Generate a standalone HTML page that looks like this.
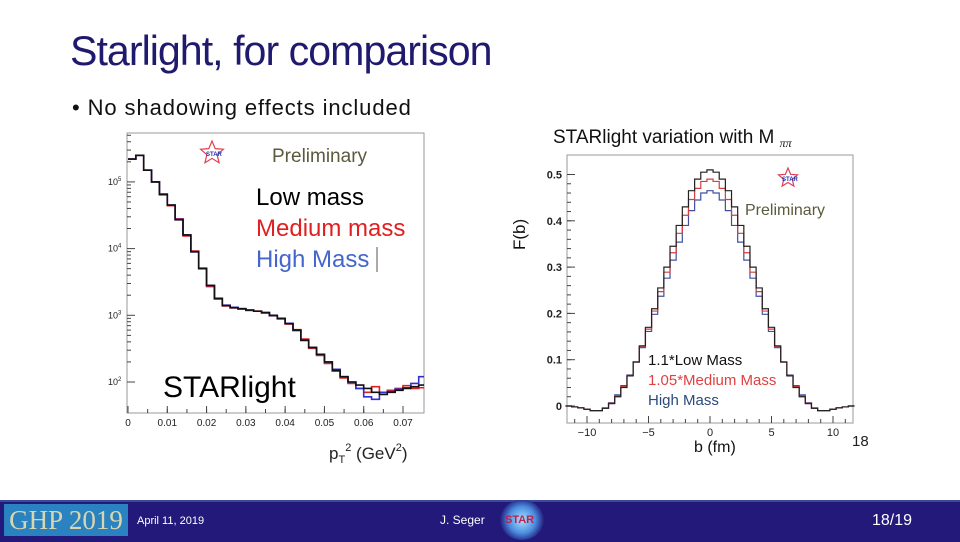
<!DOCTYPE html>
<html><head><meta charset="utf-8">
<style>
body{margin:0;width:960px;height:540px;overflow:hidden;background:#fff;font-family:"Liberation Sans",sans-serif;position:relative}
.t{position:absolute;white-space:nowrap}
</style></head><body>
<div class="t" style="left:70px;top:27px;font-family:'Liberation Sans',sans-serif;font-size:42px;color:#1f1a6e;letter-spacing:-1px;transform-origin:0 0;transform:scaleX(0.98)">Starlight, for comparison</div>
<div class="t" style="left:72px;top:95px;font-size:22px;letter-spacing:0.9px;color:#111">• No shadowing effects included</div>
<svg id="c" width="960" height="540" style="position:absolute;left:0;top:0"></svg>
<div style="position:absolute;left:0;top:500px;width:960px;height:40px;background:#22197a;border-top:2px solid #3a4a9a"></div>
<div class="t" style="left:4px;top:504px;width:124px;height:32px;background:#2a82c0;font-family:'Liberation Serif',serif;font-size:27px;color:#d8d6b0;line-height:32px;text-align:center">GHP 2019</div>
<div class="t" style="left:137px;top:515px;font-size:11px;color:#fff">April 11, 2019</div>
<div class="t" style="left:440px;top:513px;font-size:12px;color:#fff">J. Seger</div>
<div style="position:absolute;left:500px;top:500px;width:44px;height:40px;border-radius:50%;background:radial-gradient(circle,#aee0ff 0,#4a8ee0 45%,#22197a 75%)"></div>
<div class="t" style="left:505px;top:514px;font-size:11px;font-weight:bold;color:#c0204a">STAR</div>
<div class="t" style="left:872px;top:512px;font-size:16px;color:#fff">18/19</div>
<script>
const NS='http://www.w3.org/2000/svg';const svg=document.getElementById('c');
function el(t,a,txt){const e=document.createElementNS(NS,t);for(const k in a)e.setAttribute(k,a[k]);if(txt!==undefined)e.textContent=txt;svg.appendChild(e);return e;}
// ---- left chart data ----
const ptBins=[0,0.002,0.004,0.006,0.008,0.010,0.012,0.014,0.016,0.018,0.020,0.022,0.024,0.026,0.028,0.030,0.032,0.034,0.036,0.038,0.040,0.042,0.044,0.046,0.048,0.050,0.052,0.054,0.056,0.058,0.060,0.062,0.064,0.066,0.068,0.070,0.072,0.074];
const lowCounts=[220000,250000,150000,100000,65000,45000,27000,16000,9000,5000,2800,1800,1400,1300,1250,1200,1150,1100,1000,900,750,600,420,330,260,200,150,120,100,90,80,70,65,70,75,80,85,90];
const medCounts=[220000,250000,150000,100000,66000,44000,28000,15500,9200,5100,2700,1750,1380,1290,1240,1180,1160,1080,980,880,740,610,440,320,250,190,145,115,95,80,70,85,70,75,80,88,80,82];
const highCounts=[220000,250000,150000,100000,64000,45000,27500,16000,8900,5000,2800,1800,1420,1320,1260,1200,1150,1100,990,890,760,590,430,330,260,200,155,120,100,80,60,55,70,72,78,82,95,120];
const leftXTicks=[0,0.01,0.02,0.03,0.04,0.05,0.06,0.07];
const leftYTicks=[2,3,4,5];
// ---- right chart data ----
const bVals=[-12,-11.5,-11,-10.5,-10,-9.5,-9,-8.5,-8,-7.5,-7,-6.5,-6,-5.5,-5,-4.5,-4,-3.5,-3,-2.5,-2,-1.5,-1,-0.5,0,0.5,1,1.5,2,2.5,3,3.5,4,4.5,5,5.5,6,6.5,7,7.5,8,8.5,9,9.5,10,10.5,11,11.5,12];
const lowF=[0,0,-0.002,-0.004,-0.007,-0.01,-0.01,-0.005,0.005,0.02,0.04,0.065,0.095,0.13,0.17,0.21,0.255,0.30,0.345,0.39,0.43,0.465,0.49,0.505,0.51,0.505,0.49,0.465,0.43,0.39,0.345,0.30,0.255,0.21,0.17,0.13,0.095,0.065,0.04,0.02,0.005,-0.005,-0.01,-0.01,-0.007,-0.004,-0.002,0,0];
const medF=[0,0,-0.002,-0.004,-0.007,-0.01,-0.01,-0.005,0.006,0.022,0.042,0.066,0.095,0.128,0.166,0.205,0.247,0.289,0.331,0.373,0.412,0.446,0.47,0.485,0.49,0.485,0.47,0.446,0.412,0.373,0.331,0.289,0.247,0.205,0.166,0.128,0.095,0.066,0.042,0.022,0.006,-0.005,-0.01,-0.01,-0.007,-0.004,-0.002,0,0];
const highF=[0,0,-0.002,-0.004,-0.007,-0.01,-0.01,-0.004,0.007,0.024,0.044,0.067,0.095,0.126,0.161,0.198,0.237,0.276,0.315,0.354,0.39,0.422,0.445,0.46,0.465,0.46,0.445,0.422,0.39,0.354,0.315,0.276,0.237,0.198,0.161,0.126,0.095,0.067,0.044,0.024,0.007,-0.004,-0.01,-0.01,-0.007,-0.004,-0.002,0,0];
const rightXTicks=[-10,-5,0,5,10];
const rightYTicks=[0,0.1,0.2,0.3,0.4,0.5];

const lx=v=>128+v/0.07*275, ly=c=>382-(Math.log10(c)-2)*66.7;
const lx0=127,lx1=424,ly0=133,ly1=413;
let f=el('rect',{x:lx0,y:ly0,width:lx1-lx0,height:ly1-ly0,fill:'none',stroke:'#999','stroke-width':1});

leftXTicks.forEach(v=>{el('line',{x1:lx(v),x2:lx(v),y1:ly1,y2:ly1-7,stroke:'#444'});
 const t=el('text',{x:lx(v),y:ly1+13,'font-size':10,'text-anchor':'middle',fill:'#222'},String(v));
 });
for(let v=0.005;v<0.075;v+=0.005)el('line',{x1:lx(v),x2:lx(v),y1:ly1,y2:ly1-4,stroke:'#444'});
leftYTicks.forEach(p=>{el('line',{x1:lx0,x2:lx0+8,y1:ly(Math.pow(10,p)),y2:ly(Math.pow(10,p)),stroke:'#444'});
 const t=el('text',{x:108,y:ly(Math.pow(10,p))+3,'font-size':9,fill:'#222'});
 t.innerHTML='10<tspan dy="-4" font-size="6">'+p+'</tspan>';
 for(let m=2;m<10;m++){const yy=ly(m*Math.pow(10,p));if(yy>ly0&&yy<ly1)el('line',{x1:lx0,x2:lx0+4,y1:yy,y2:yy,stroke:'#444'});}
});
function lhist(counts,col,name){let d='';counts.forEach((c,i)=>{const x0=lx(ptBins[i]),x1=Math.min(lx(ptBins[i]+0.002),lx1),y=ly(c);d+=(i?'L':'M')+x0+' '+y+'L'+x1+' '+y;});
 const p=el('path',{d:d,fill:'none',stroke:col,'stroke-width':1.6});}
lhist(medCounts,'#e02020','medium-mass-hist');lhist(highCounts,'#3030d0','high-mass-hist');lhist(lowCounts,'#111','low-mass-hist');
function tx(x,y,s,sz,col,name,extra){const t=el('text',Object.assign({x:x,y:y,'font-size':sz,fill:col},extra||{}),s);return t;}
tx(272,162,'Preliminary',19,'#5a5a3c','left-preliminary-label');
tx(256,205,'Low mass',24,'#000','legend-low-mass');
tx(256,236,'Medium mass',24,'#e02020','legend-medium-mass');
tx(256,267,'High Mass',24,'#4466cc','legend-high-mass');
el('line',{x1:377,x2:377,y1:247,y2:272,stroke:'#555'});
tx(163,397,'STARlight',30,'#000','starlight-label');
const xt=tx(329,459,'',17,'#222','left-x-axis-title');xt.innerHTML='p<tspan dy="4" font-size="11">T</tspan><tspan dy="-12" font-size="11">2</tspan><tspan dy="8"> (GeV</tspan><tspan dy="-8" font-size="11">2</tspan><tspan dy="8">)</tspan>';
function star(cx,cy,r,name){let pts=[];for(let i=0;i<10;i++){const a=-Math.PI/2+i*Math.PI/5,rr=i%2?r*0.45:r;pts.push((cx+rr*Math.cos(a))+','+(cy+rr*Math.sin(a)));}
 const p=el('polygon',{points:pts.join(' '),fill:'none',stroke:'#e04050','stroke-width':1.2});
 tx(cx-6,cy+3,'STAR',6,'#2030b0',name+'-text',{'font-weight':'bold'});}
star(212,153,12,'left-star-logo');
const rx=b=>710+b*12.3, ry=v=>406-v*463;
const rx0=567,rx1=853,ry0=155,ry1=423;
f=el('rect',{x:rx0,y:ry0,width:rx1-rx0,height:ry1-ry0,fill:'none',stroke:'#999'});

rightXTicks.forEach(v=>{el('line',{x1:rx(v),x2:rx(v),y1:ry1,y2:ry1-7,stroke:'#444'});tx(rx(v),ry1+13,v<0?'\u2212'+(-v):String(v),11,'#222','right-x-tick-label',{'text-anchor':'middle'});});
for(let v=-11;v<=11;v++)el('line',{x1:rx(v),x2:rx(v),y1:ry1,y2:ry1-4,stroke:'#444'});
rightYTicks.forEach(v=>{el('line',{x1:rx0,x2:rx0+8,y1:ry(v),y2:ry(v),stroke:'#444'});tx(562,ry(v)+4,v===0?'0':v.toFixed(1),11,'#222','right-y-tick-label',{'text-anchor':'end','font-weight':'bold'});});
for(let v=0;v<=0.52;v+=0.02)el('line',{x1:rx0,x2:rx0+4,y1:ry(v),y2:ry(v),stroke:'#444'});
function rhist(vals,col,name){let d='';vals.forEach((v,i)=>{const x0=Math.max(rx(bVals[i]-0.25),rx0),x1=Math.min(rx(bVals[i]+0.25),rx1),y=ry(v);d+=(i?'L':'M')+x0+' '+y+'L'+x1+' '+y;});
 const p=el('path',{d:d,fill:'none',stroke:col,'stroke-width':1.2});}
rhist(highF,'#4050a0','high-mass-fb');rhist(medF,'#d04040','medium-mass-fb');rhist(lowF,'#222','low-mass-fb');
const rt=tx(553,143,'',19,'#111','right-chart-title');rt.innerHTML='STARlight variation with M <tspan dy="4" font-size="12" font-family="Liberation Serif" font-style="italic">ππ</tspan>';
tx(525,250,'F(b)',17,'#111','right-y-axis-title',{transform:'rotate(-90 525 250)'});
tx(694,452,'b (fm)',16,'#111','right-x-axis-title');
tx(852,446,'18',15,'#222','stray-label');
tx(745,215,'Preliminary',16,'#5a5a3c','right-preliminary-label');
star(788,178,10,'right-star-logo');
tx(648,365,'1.1*Low Mass',15,'#111','legend-1-1-low-mass');
tx(648,385,'1.05*Medium Mass',15,'#e04040','legend-1-05-medium-mass');
tx(648,405,'High Mass',15,'#2a4a7a','legend-high-mass-right');
</script>
</body></html>
